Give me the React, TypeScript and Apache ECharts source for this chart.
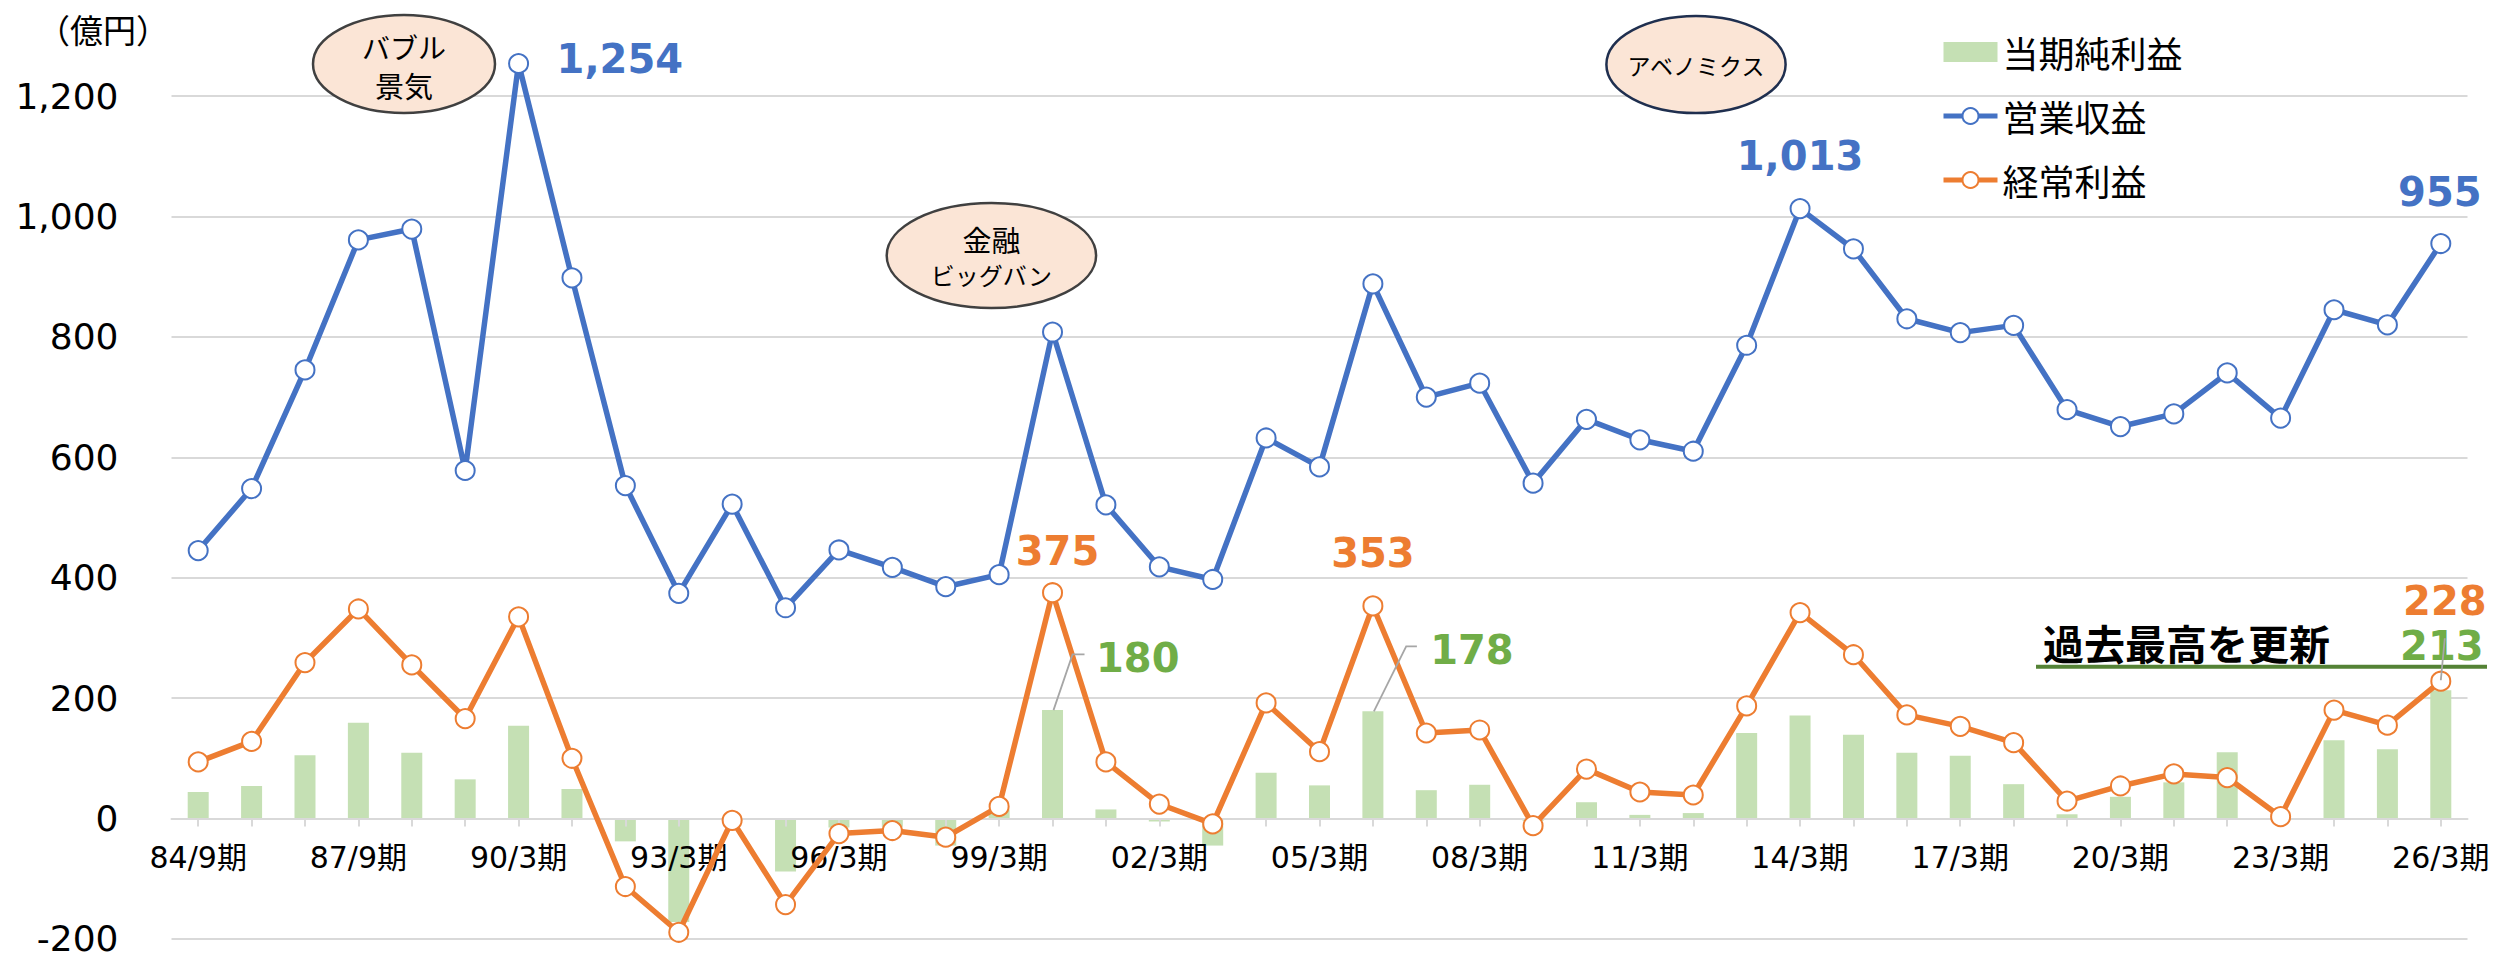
import React, { useEffect, useRef } from 'react';
import * as echarts from 'echarts';

const W = 2493;
const H = 957;

const categories = [
  '84/9期', '85/9期', '86/9期', '87/9期', '88/9期', '89/3期', '90/3期', '91/3期', '92/3期', '93/3期',
  '94/3期', '95/3期', '96/3期', '97/3期', '98/3期', '99/3期', '00/3期', '01/3期', '02/3期', '03/3期',
  '04/3期', '05/3期', '06/3期', '07/3期', '08/3期', '09/3期', '10/3期', '11/3期', '12/3期', '13/3期',
  '14/3期', '15/3期', '16/3期', '17/3期', '18/3期', '19/3期', '20/3期', '21/3期', '22/3期', '23/3期',
  '24/3期', '25/3期', '26/3期',
];

// 営業収益
const revenue = [
  445, 548, 745, 961, 979, 578, 1254, 898, 553, 374,
  522, 350, 446, 417, 385, 405, 808, 521, 418, 397,
  632, 584, 888, 700, 723, 557, 663, 629, 610, 786,
  1013, 946, 830, 807, 819, 679, 651, 672, 740, 665,
  845, 820, 955,
];

// 経常利益
const ordinaryProfit = [
  94, 128, 259, 348, 255, 166, 335, 100, -113, -189,
  -3, -143, -25, -20, -31, 20, 375, 94, 24, -9,
  192, 111, 353, 142, 147, -12, 82, 44, 39, 187,
  342, 272, 172, 153, 126, 29, 54, 74, 68, 3,
  180, 155, 228,
];

// 当期純利益
const netIncome = [
  44, 54, 105, 159, 109, 65, 154, 49, -38, -172,
  -3, -88, -15, -14, -45, 15, 180, 15, -5, -45,
  76, 55, 178, 47, 56, -4, 27, 6, 9, 142,
  171, 139, 109, 104, 57, 7, 36, 60, 110, 0,
  130, 115, 213,
];

const seriesNames = ['当期純利益', '営業収益', '経常利益'];
const yMin = -200;
const yMax = 1400;
const yInterval = 200;
const unitLabel = '（億円）';
const highlightText = '過去最高を更新';

// indexes of the annotated values
const revenueLabelIdx = [6, 30, 42];
const ordinaryLabelIdx = [16, 22, 42];
const netLabelIdx = [16, 22, 42];

const BLUE = '#4472C4';
const ORANGE = '#ED7D31';
const GREEN_BAR = '#C5E0B4';
const GREEN_TXT = '#70AD47';
const GRID = '#D9D9D9';
const AX_FONT = '"DejaVu Sans", "Noto Sans CJK JP", sans-serif';
const JP_FONT = '"Noto Sans CJK JP", sans-serif';

const GRID_TOP = -24.4;
const GRID_BOTTOM = 18.1;

const fmt = (v: number) => v.toLocaleString('en-US');

export default function App() {
  const ref = useRef<HTMLDivElement>(null);

  useEffect(() => {
    if (!ref.current) return;
    const chart = echarts.init(ref.current, null, { renderer: 'svg', width: W, height: H });

    // distance (px) from the bottom of the grid up to the zero line
    const plotH = H - GRID_TOP - GRID_BOTTOM;
    const zeroOffset = (plotH * (0 - yMin)) / (yMax - yMin);

    const lineSeries = (name: string, data: number[], color: string) => ({
      name,
      type: 'line',
      data,
      symbol: 'circle',
      symbolSize: 19,
      showSymbol: true,
      lineStyle: { color, width: 5.5 },
      itemStyle: { color: '#FFFFFF', borderColor: color, borderWidth: 2 },
      emphasis: { disabled: true },
      z: 3,
    });

    const option: any = {
      animation: false,
      backgroundColor: '#FFFFFF',
      grid: {
        left: 171.5,
        right: 25.5,
        top: GRID_TOP,
        bottom: GRID_BOTTOM,
        containLabel: false,
        outerBoundsMode: 'none',
      },
      legend: {
        orient: 'vertical',
        left: 1941,
        top: 34,
        padding: 0,
        itemGap: 28,
        itemWidth: 54,
        itemHeight: 20,
        textStyle: { fontSize: 36, color: '#000', fontFamily: JP_FONT },
        data: [
          { name: seriesNames[0], icon: 'rect' },
          { name: seriesNames[1], lineStyle: { width: 5 } },
          { name: seriesNames[2], lineStyle: { width: 5 } },
        ],
      },
      xAxis: {
        type: 'category',
        data: categories,
        boundaryGap: true,
        offset: -zeroOffset,
        z: 2.5,
        axisLine: { show: true, onZero: false, lineStyle: { color: GRID, width: 2 } },
        axisTick: {
          show: true,
          alignWithLabel: true,
          interval: 0,
          length: 8,
          lineStyle: { color: GRID, width: 2 },
        },
        axisLabel: {
          interval: 2,
          fontSize: 30,
          color: '#000',
          fontFamily: AX_FONT,
          margin: 24,
        },
        splitLine: { show: false },
      },
      yAxis: {
        type: 'value',
        min: yMin,
        max: yMax,
        interval: yInterval,
        axisLine: { show: false },
        axisTick: { show: false },
        splitLine: { show: true, lineStyle: { color: GRID, width: 2 } },
        axisLabel: {
          fontSize: 36,
          lineHeight: 32,
          color: '#000',
          fontFamily: AX_FONT,
          margin: 53,
          formatter: (v: number) => (v === yMax ? '' : fmt(v)),
        },
      },
      series: [
        {
          name: seriesNames[0],
          type: 'bar',
          data: netIncome,
          barWidth: 21,
          itemStyle: { color: GREEN_BAR },
          emphasis: { disabled: true },
          z: 2,
        },
        lineSeries(seriesNames[1], revenue, BLUE),
        lineSeries(seriesNames[2], ordinaryProfit, ORANGE),
      ],
    };

    chart.setOption(option);

    const px = (i: number, v: number) =>
      chart.convertToPixel({ gridIndex: 0 } as any, [i, v]) as number[];

    const txt = (x: number, y: number, text: string, color: string, align = 'center', size = 40) => ({
      type: 'text',
      x,
      y,
      z: 100,
      style: {
        text,
        fill: color,
        fontSize: size,
        fontWeight: 'bold',
        fontFamily: '"DejaVu Sans", sans-serif',
        align,
        verticalAlign: 'middle',
      },
    });
    const leader = (pts: number[][]) => ({
      type: 'polyline',
      z: 101,
      shape: { points: pts },
      style: { stroke: '#A6A6A6', lineWidth: 1.8, fill: null },
    });

    const g: any[] = [];

    // revenue labels
    {
      const [a, b, c] = revenueLabelIdx;
      const p0 = px(a, revenue[a]);
      g.push(txt(p0[0] + 38, p0[1] - 5, fmt(revenue[a]), BLUE, 'left'));
      const p1 = px(b, revenue[b]);
      g.push(txt(p1[0], p1[1] - 53, fmt(revenue[b]), BLUE));
      const p2 = px(c, revenue[c]);
      g.push(txt(p2[0] - 1, p2[1] - 52, fmt(revenue[c]), BLUE));
    }
    // ordinary profit labels
    {
      const [a, b, c] = ordinaryLabelIdx;
      const p0 = px(a, ordinaryProfit[a]);
      g.push(txt(p0[0] + 5, p0[1] - 42, fmt(ordinaryProfit[a]), ORANGE));
      const p1 = px(b, ordinaryProfit[b]);
      g.push(txt(p1[0], p1[1] - 53, fmt(ordinaryProfit[b]), ORANGE));
      const p2 = px(c, ordinaryProfit[c]);
      g.push(txt(p2[0] + 4, p2[1] - 80, fmt(ordinaryProfit[c]), ORANGE));
    }
    // net income labels with leader lines
    {
      const [a, b, c] = netLabelIdx;
      const p0 = px(a, netIncome[a]);
      g.push(leader([[p0[0] + 1, p0[1]], [p0[0] + 20, p0[1] - 55.7], [p0[0] + 32, p0[1] - 55.7]]));
      g.push(txt(p0[0] + 43.5, p0[1] - 52.4, fmt(netIncome[a]), GREEN_TXT, 'left'));
      const p1 = px(b, netIncome[b]);
      g.push(leader([[p1[0] + 1, p1[1]], [p1[0] + 33.3, p1[1] - 65], [p1[0] + 44, p1[1] - 65]]));
      g.push(txt(p1[0] + 57.3, p1[1] - 61.7, fmt(netIncome[b]), GREEN_TXT, 'left'));
      const p2 = px(c, netIncome[c]);
      g.push(txt(p2[0] + 1, p2[1] - 44, fmt(netIncome[c]), GREEN_TXT));
      g.push(leader([[p2[0], p2[1] - 10], [p2[0] + 4, p2[1] - 52]]));
    }

    // highlight text and underline
    g.push({
      type: 'text',
      x: 2043,
      y: 642,
      z: 100,
      style: {
        text: highlightText,
        fill: '#000',
        fontSize: 41,
        fontWeight: 'bold',
        fontFamily: JP_FONT,
        align: 'left',
        verticalAlign: 'middle',
      },
    });
    g.push({
      type: 'line',
      z: 100,
      shape: { x1: 2036, y1: 666.7, x2: 2487, y2: 666.7 },
      style: { stroke: '#548235', lineWidth: 4 },
    });

    // unit
    g.push({
      type: 'text',
      x: 103,
      y: 29,
      z: 100,
      style: {
        text: unitLabel,
        fill: '#000',
        fontSize: 33,
        fontFamily: JP_FONT,
        align: 'center',
        verticalAlign: 'middle',
      },
    });

    // ellipses
    const bubble = (cx: number, cy: number, rx: number, ry: number, stroke: string, lines: { t: string; y: number; s: number }[]) => {
      g.push({
        type: 'ellipse',
        z: 90,
        shape: { cx, cy, rx, ry },
        style: { fill: '#FBE5D6', stroke, lineWidth: 2.5 },
      });
      lines.forEach((l) =>
        g.push({
          type: 'text',
          x: cx,
          y: l.y,
          z: 91,
          style: {
            text: l.t,
            fill: '#000',
            fontSize: l.s,
            fontFamily: JP_FONT,
            align: 'center',
            verticalAlign: 'middle',
          },
        })
      );
    };
    bubble(404, 64, 91, 49, '#404040', [
      { t: 'バブル', y: 46.5, s: 28 },
      { t: '景気', y: 85, s: 29 },
    ]);
    bubble(991.4, 255.5, 104.7, 52.5, '#404040', [
      { t: '金融', y: 238.5, s: 29 },
      { t: 'ビッグバン', y: 274, s: 24 },
    ]);
    bubble(1696, 64.5, 89.6, 48.5, '#1F2F4F', [{ t: 'アベノミクス', y: 65, s: 23 }]);

    chart.setOption({ graphic: g });

    return () => {
      chart.dispose();
    };
  }, []);

  return (
    <div
      ref={ref}
      style={{ position: 'absolute', left: 0, top: 0, width: W, height: H, background: '#fff' }}
    />
  );
}
